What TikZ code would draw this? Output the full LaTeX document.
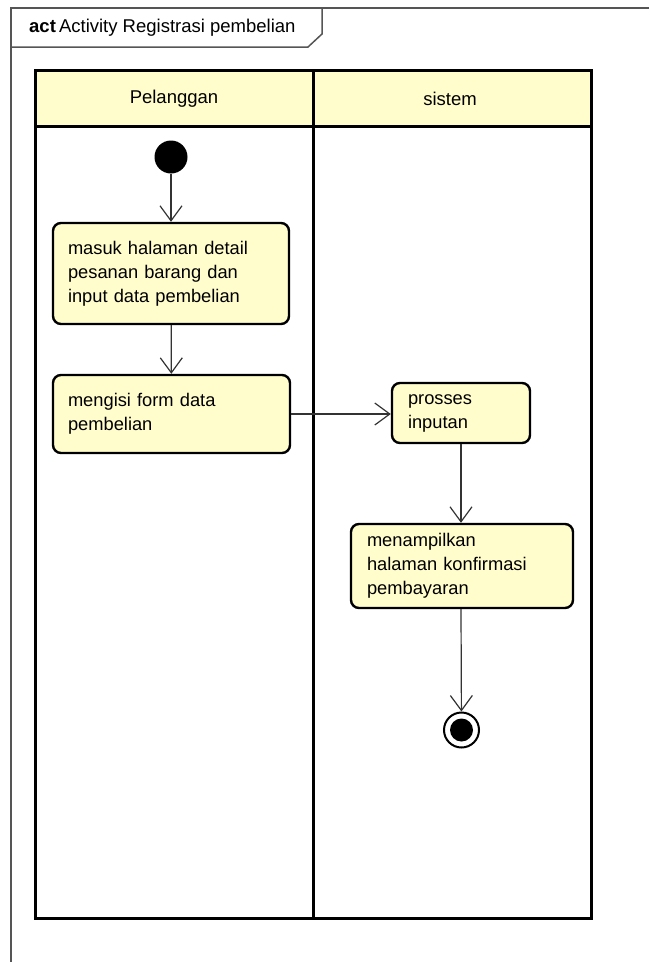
\documentclass[tikz,border=0pt]{standalone}
\usepackage{fontspec}
\setmainfont{Liberation Sans}
\usetikzlibrary{arrows.meta}
\definecolor{notefill}{HTML}{FFFDCC}
\definecolor{framegray}{HTML}{555555}
\definecolor{flowgray}{HTML}{333333}
\tikzset{
  x=1pt, y=-1pt,
  actbox/.style={draw=black, line width=2.4pt, fill=notefill, rounded corners=8pt,
    inner xsep=15pt, inner ysep=0pt, align=left,
    font=\fontsize{18.3}{24}\selectfont},
  lanehead/.style={draw=black, line width=3pt, fill=notefill},
  lanelabel/.style={font=\fontsize{18.5}{24}\selectfont},
  flow/.style={draw=flowgray, line width=1.2pt,
    -{Straight Barb[length=15pt,width=22pt,line width=1.2pt]}},
}
\begin{document}
\begin{tikzpicture}
\useasboundingbox (0,0) rectangle (649,962);

% diagram frame with its name tab
\draw[framegray, line width=1.5pt] (649,8) -- (11,8) -- (11,962);
\draw[framegray, line width=1.5pt] (11,47) -- (308,47) -- (322,34) -- (322,8);
\node[anchor=west, inner sep=0pt, font=\fontsize{18.5}{22}\selectfont] (title) at (29,28)
  {\textbf{act}\,Activity Registrasi pembelian};

% swimlanes
\draw[lanehead] (35,70) rectangle (313,126);
\draw[lanehead] (313,70) rectangle (591,126);
\node[lanelabel] (laneA) at (174,99) {Pelanggan};
\node[lanelabel] (laneB) at (450,99) {sistem};
\draw[line width=3pt] (35,126) rectangle (591,918);
\draw[line width=3pt] (313,126) -- (313,918);

% start node
\node[circle, fill=black, minimum size=33pt, inner sep=0pt] (start) at (171,157) {};

% actions
\node[actbox, text width=206pt, minimum height=101pt] (b1) at (171,273.5)
  {masuk halaman detail\\pesanan barang dan\\input data pembelian};
\node[actbox, text width=207pt, minimum height=78pt] (b2) at (171.5,414)
  {mengisi form data\\pembelian};
\node[actbox, text width=106pt, minimum height=60pt, inner xsep=16pt] (b3) at (461,413)
  {prosses\\inputan};
\node[actbox, text width=190pt, minimum height=84pt, inner xsep=16pt] (b4) at (462,566)
  {menampilkan\\halaman konfirmasi\\pembayaran};

% final node
\node[circle, draw=black, line width=2pt, minimum size=35pt, inner sep=0pt] (final) at (461.5,730) {};
\fill[black] (final.center) circle (11.5);

% control flows
\draw[flow] (start) -- (b1);
\draw[flow] (b1) -- (b2);
\draw[flow] (b2.east) -- (b3.west |- b2.east);
\draw[flow] (b3) -- (b3 |- b4.north);
\draw[flow] (b4.south -| b3) -- (final);
\end{tikzpicture}
\end{document}
